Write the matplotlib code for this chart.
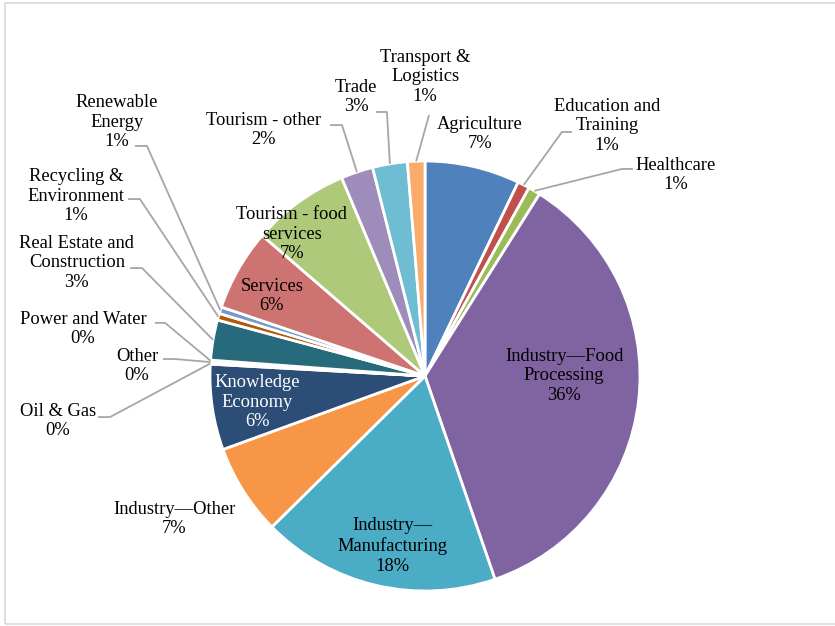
import matplotlib.pyplot as plt
from matplotlib.patches import Rectangle
import numpy as np

sectors = ['Agriculture', 'Education and\nTraining', 'Healthcare',
           'Industry\u2014Food\nProcessing', 'Industry\u2014\nManufacturing',
           'Industry\u2014Other', 'Knowledge\nEconomy', 'Oil & Gas', 'Other',
           'Power and Water', 'Real Estate and\nConstruction', 'Recycling &\nEnvironment',
           'Renewable\nEnergy', 'Services', 'Tourism - food\nservices',
           'Tourism - other', 'Trade', 'Transport &\nLogistics']
shares = [7.1, 0.9, 0.9, 35.6, 17.8, 6.8, 6.4, 0.1, 0.1, 0.1, 3.0, 0.5, 0.5,
          6.1, 7.3, 2.4, 2.6, 1.3]
colors = ['#4F81BD', '#C0504D', '#9BBB59', '#8064A2', '#4BACC6', '#F79646',
          '#2C4D75', '#772C2A', '#5F7530', '#4D3B62', '#276A7C', '#B65708',
          '#729ACA', '#CD7371', '#AFC97A', '#9E8CBB', '#6FBDD3', '#F9AB6B']

# label centre (x, y) in pie-radius units
label_pos = [
    (0.256, 1.126), (0.847, 1.163), (1.167, 0.935), (0.647, 0.0),
    (-0.153, -0.791), (-1.167, -0.665), (-0.781, -0.121), (-1.707, -0.209),
    (-1.340, 0.047), (-1.591, 0.219), (-1.619, 0.526), (-1.623, 0.837),
    (-1.433, 1.181), (-0.712, 0.372), (-0.619, 0.660), (-0.749, 1.144),
    (-0.321, 1.298), (0.0, 1.391),
]
# leader line points near each outside label (None = label sits on the slice)
elbows = [
    None, [(0.684, 1.135), (0.637, 1.135)], [(0.967, 0.963), (0.916, 0.963)],
    None, None, None, None,
    [(-1.521, -0.191), (-1.465, -0.191)], [(-1.219, 0.079), (-1.163, 0.079)],
    [(-1.256, 0.247), (-1.209, 0.247)], [(-1.372, 0.502), (-1.316, 0.502)],
    [(-1.381, 0.823), (-1.326, 0.823)], [(-1.349, 1.070), (-1.293, 1.070)],
    None, None, [(-0.442, 1.167), (-0.386, 1.167)],
    [(-0.228, 1.228), (-0.177, 1.228)], [(0.019, 1.214)],
]

plt.rcParams['font.family'] = ['Liberation Serif', 'DejaVu Serif']

W, H = 835, 626
fig = plt.figure(figsize=(W / 100, H / 100), dpi=100)
fig.patches.append(Rectangle((5 / W, 1 - 624 / H), 1.2, (624 - 3) / H,
                             transform=fig.transFigure, fill=False,
                             edgecolor='#D9D9D9', linewidth=1.2))

R = 215.0
cx, cy = 425.0, 376.0
ax = fig.add_axes([0, 0, 1, 1])

wedges, _ = ax.pie(shares, colors=colors, startangle=90, counterclock=False,
                   radius=1.0, wedgeprops=dict(edgecolor='white', linewidth=2))

ax.set_xlim(-cx / R, (W - cx) / R)
ax.set_ylim((cy - H) / R, cy / R)
ax.set_aspect('equal')
ax.axis('off')

total = sum(shares)
for w, name, v, (lx, ly), elb in zip(wedges, sectors, shares, label_pos, elbows):
    pct = round(v / total * 100)
    tc = 'white' if name.startswith('Knowledge') else 'black'
    ax.text(lx, ly, f'{name}\n{pct}%', ha='center', va='center', fontsize=13.3,
            color=tc, linespacing=1.2)
    if elb is not None:
        mid = np.deg2rad((w.theta1 + w.theta2) / 2)
        pts = elb + [(np.cos(mid), np.sin(mid))]
        ax.plot([p[0] for p in pts], [p[1] for p in pts], color='#A6A6A6',
                linewidth=1.3, solid_capstyle='butt')

fig.savefig('out.png', dpi=100)
